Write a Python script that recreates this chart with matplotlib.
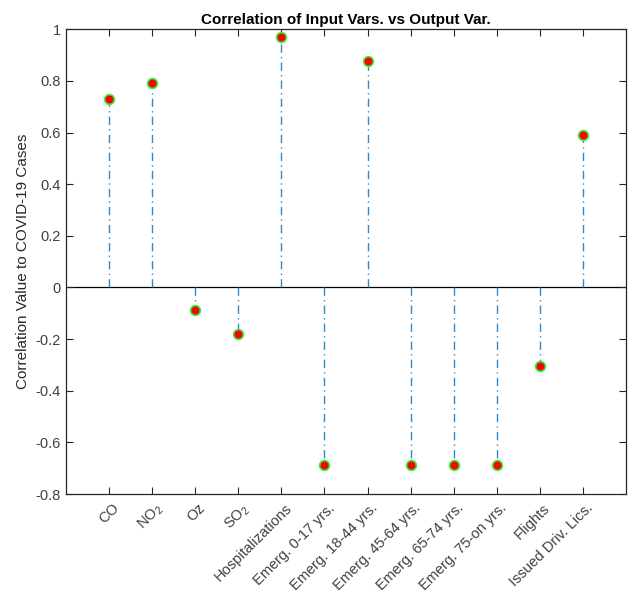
import numpy as np
import matplotlib
matplotlib.use("Agg")
import matplotlib.pyplot as plt
from matplotlib.transforms import ScaledTranslation

plt.rcParams['font.family'] = ['Liberation Sans', 'DejaVu Sans']
plt.rcParams['mathtext.default'] = 'regular'

# data
labels = ['CO', 'NO$_2$', 'Oz', 'SO$_2$', 'Hospitalizations', 'Emerg. 0-17 yrs.',
          'Emerg. 18-44 yrs.', 'Emerg. 45-64 yrs.', 'Emerg. 65-74 yrs.',
          'Emerg. 75-on yrs.', 'Flights', 'Issued Driv. Lics.']
corr = [0.729, 0.791, -0.088, -0.180, 0.969, -0.688,
        0.876, -0.688, -0.688, -0.688, -0.304, 0.590]
yticks = [-0.8, -0.6, -0.4, -0.2, 0, 0.2, 0.4, 0.6, 0.8, 1]

fig = plt.figure(figsize=(6.28, 5.96), dpi=100)
ax = fig.add_axes([0.105, 0.171, 0.892, 0.780])

x = np.arange(1, len(corr) + 1)
stem_color = '#2f8ad0'
ax.vlines(x, 0, corr, colors=stem_color, linestyles=(0, (6, 3, 1, 3)), linewidth=1.0, zorder=2)
ax.axhline(0, color='black', linewidth=0.9, zorder=1)
ax.plot(x, corr, 'o', markersize=7, markerfacecolor='red',
        markeredgecolor='#33ee33', markeredgewidth=1.2, linestyle='none', zorder=3)

ax.set_xlim(0, 13)
ax.set_ylim(-0.8, 1)
ax.set_xticks(x)
ax.set_xticklabels([])
# rotated labels placed by hand so they sit like matlab's (right of the tick)
lab_trans = ax.get_xaxis_transform() + ScaledTranslation(3 / 100, -7 / 100, fig.dpi_scale_trans)
for xi, lab in zip(x, labels):
    ax.text(xi, 0, lab, transform=lab_trans, rotation=45, ha='right', va='top',
            rotation_mode='anchor', fontsize=10.5, color='#404040')
ax.set_yticks(yticks)
ax.set_yticklabels([f'{v:g}' for v in yticks], fontsize=10.5)
ax.tick_params(direction='in', top=True, right=True, length=5, width=0.8,
               colors='#262626', labelcolor='#404040')
for s in ax.spines.values():
    s.set_color('#262626')
    s.set_linewidth(0.9)

ax.set_ylabel('Correlation Value to COVID-19 Cases', fontsize=11, color='#262626')
ax.set_title('Correlation of Input Vars. vs Output Var.', fontsize=11, fontweight='bold', pad=4)

fig.savefig('out.png', dpi=100)
